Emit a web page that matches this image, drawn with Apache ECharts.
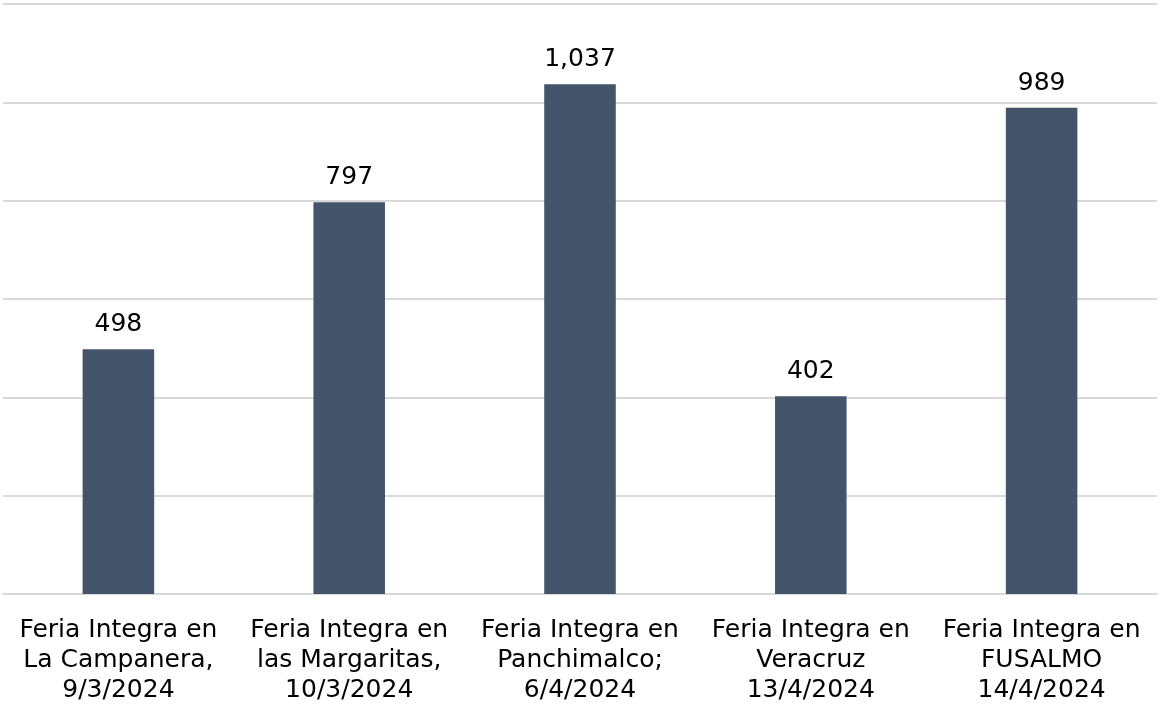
<!DOCTYPE html>
<html>
<head>
<meta charset="utf-8">
<script src="https://cdn.jsdelivr.net/npm/echarts@6/dist/echarts.min.js"></script>
<style>
  html, body { margin: 0; padding: 0; background: #fff; }
  #chart { width: 1160px; height: 705px; }
</style>
</head>
<body>
<div id="chart"></div>
<script>
var categories = [
  'Feria Integra en\nLa Campanera,\n9/3/2024',
  'Feria Integra en\nlas Margaritas,\n10/3/2024',
  'Feria Integra en\nPanchimalco;\n6/4/2024',
  'Feria Integra en\nVeracruz\n13/4/2024',
  'Feria Integra en\nFUSALMO\n14/4/2024'
]
var values = [498, 797, 1037, 402, 989]

var chart = echarts.init(document.getElementById('chart'))
var option = {
  backgroundColor: '#fff',
  animation: false,
  grid: {
    left: 3,
    right: 3,
    top: 4,
    bottom: 111,
    containLabel: false
  },
  xAxis: {
    type: 'category',
    data: categories,
    axisTick: { show: false },
    axisLine: {
      lineStyle: { color: '#d9d9d9', width: 2 }
    },
    axisLabel: {
      color: '#000',
      fontFamily: 'DejaVu Sans, sans-serif',
      fontSize: 25,
      lineHeight: 30,
      margin: 21,
      interval: 0
    }
  },
  yAxis: {
    type: 'value',
    min: 0,
    max: 1200,
    interval: 200,
    axisLabel: { show: false },
    axisLine: { show: false },
    axisTick: { show: false },
    splitLine: {
      lineStyle: { color: '#d9d9d9', width: 2 }
    }
  },
  series: [
    {
      type: 'bar',
      data: values,
      barWidth: '31%',
      itemStyle: { color: '#44546a' },
      label: {
        show: true,
        position: 'top',
        distance: 12,
        color: '#000',
        fontFamily: 'DejaVu Sans, sans-serif',
        fontSize: 25,
        formatter: function (p) {
          return p.value.toLocaleString('en-US')
        }
      }
    }
  ]
}
chart.setOption(option)
</script>
</body>
</html>
